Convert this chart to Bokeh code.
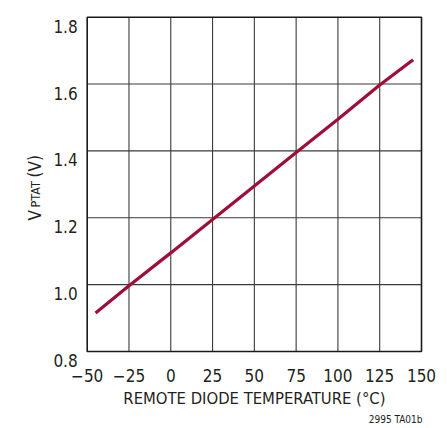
import math
from bokeh.plotting import figure
from bokeh.models import Range1d
from bokeh.core.properties import value
from bokeh.embed import file_html
from bokeh.resources import INLINE

# Data
temp_c = [-45, -25, 0, 25, 50, 75, 100, 125, 145]
v_ptat = [0.915, 0.997, 1.095, 1.195, 1.295, 1.395, 1.495, 1.597, 1.673]

x_ticks = [-50, -25, 0, 25, 50, 75, 100, 125, 150]
x_tick_labels = ["\u221250", "\u221225", "0", "25", "50", "75", "100", "125", "150"]
y_ticks = [0.8, 1.0, 1.2, 1.4, 1.6, 1.8]
y_tick_labels = ["0.8", "1.0", "1.2", "1.4", "1.6", "1.8"]

FONT = "DejaVu Sans Condensed, Liberation Sans, sans-serif"
TXT = "#231f20"
X0, X1, Y0, Y1 = -50, 150, 0.8, 1.8

# Layout in pixels (canvas = frame)
W, H = 446, 427
FL, FT, FW, FH = 86.7, 16.7, 334.3, 334.3
sx = (X1 - X0) / FW
sy = (Y1 - Y0) / FH


def dx(px):
    return X0 + (px - FL) * sx


def dy(py):
    return Y1 - (py - FT) * sy


p = figure(width=W, height=H,
           x_range=Range1d(dx(0), dx(W)), y_range=Range1d(dy(H), dy(0)),
           x_axis_location=None, y_axis_location=None,
           output_backend="svg", toolbar_location=None,
           min_border=0, min_border_left=0, min_border_right=0,
           min_border_top=0, min_border_bottom=0)
p.outline_line_color = None
p.background_fill_color = "white"
p.border_fill_color = "white"
p.xgrid.visible = False
p.ygrid.visible = False

# inner grid
inner_x = x_ticks[1:-1]
inner_y = y_ticks[1:-1]
p.segment(x0=inner_x, y0=[Y0] * len(inner_x), x1=inner_x, y1=[Y1] * len(inner_x),
          line_color="#3a3a3a", line_width=1.1)
p.segment(x0=[X0] * len(inner_y), y0=inner_y, x1=[X1] * len(inner_y), y1=inner_y,
          line_color="#3a3a3a", line_width=1.1)
# frame box
p.quad(left=[X0], right=[X1], bottom=[Y0], top=[Y1], fill_color=None,
       line_color="#1a1a1a", line_width=1.6)

# data line
p.line(temp_c, v_ptat, line_color="#9E0E38", line_width=3.2)

# tick labels
p.text(x=[X0] * len(y_ticks), y=y_ticks, text=y_tick_labels,
       x_offset=-9.5, y_offset=9, text_align="right", text_baseline="alphabetic",
       text_font=value(FONT), text_font_size="17px", text_color=TXT)
p.text(x=x_ticks, y=[Y0] * len(x_ticks), text=x_tick_labels,
       x_offset=0, y_offset=24, text_align="center", text_baseline="alphabetic",
       text_font=value(FONT), text_font_size="17px", text_color=TXT)

# x axis label
p.text(x=[dx(253.9)], y=[dy(398)], text=["REMOTE DIODE TEMPERATURE (\u00b0C)"],
       text_align="center", text_baseline="alphabetic",
       text_font=value(FONT), text_font_size="16.5px", text_color=TXT)

# y axis label V_PTAT (V), rotated
p.text(x=[dx(34.5)], y=[dy(220)], text=["V"], angle=math.pi / 2,
       text_align="left", text_baseline="alphabetic",
       text_font=value(FONT), text_font_size="17px", text_color=TXT)
p.text(x=[dx(35)], y=[dy(207)], text=["PTAT"], angle=math.pi / 2,
       text_align="left", text_baseline="alphabetic",
       text_font=value(FONT), text_font_size="12.5px", text_color=TXT)
p.text(x=[dx(34.5)], y=[dy(177)], text=["(V)"], angle=math.pi / 2,
       text_align="left", text_baseline="alphabetic",
       text_font=value(FONT), text_font_size="17px", text_color=TXT)

# footnote
p.text(x=[dx(422)], y=[dy(419)], text=["2995 TA01b"],
       text_align="right", text_baseline="alphabetic",
       text_font=value(FONT), text_font_size="10px", text_color=TXT)

open("out.html", "w").write(file_html(p, INLINE))
